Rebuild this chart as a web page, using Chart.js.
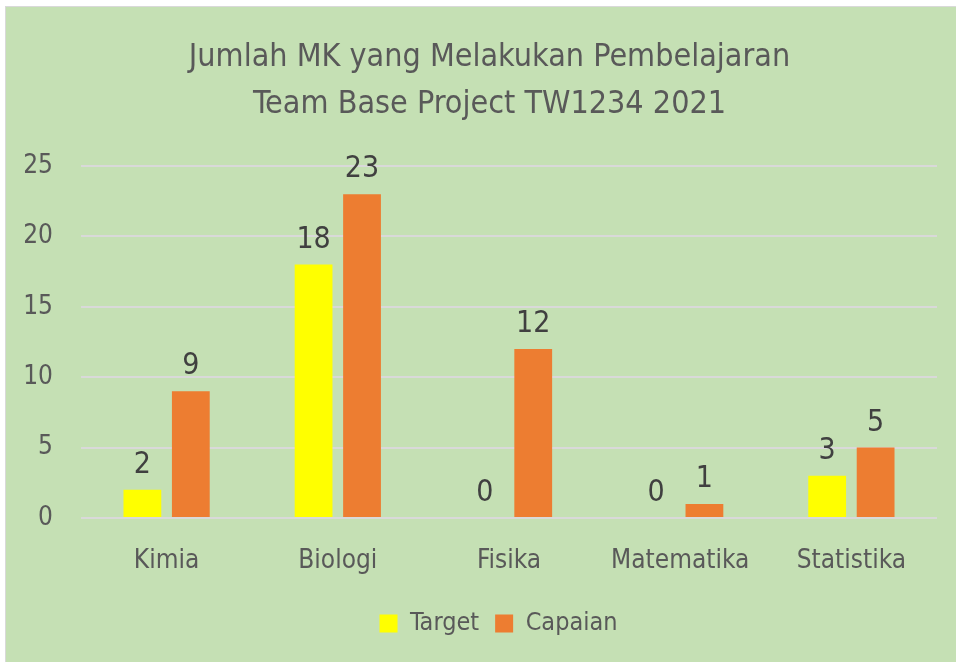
<!DOCTYPE html>
<html>
<head>
<meta charset="utf-8">
<script src="https://cdn.jsdelivr.net/npm/chart.js@4.4.1/dist/chart.umd.min.js"></script>
<style>
  html, body { margin: 0; padding: 0; background: #ffffff; }
  #wrap { position: absolute; left: 5px; top: 6px; width: 951px; height: 656px;
          border-left: 1px solid #d9d9d9; border-top: 1px solid #d9d9d9; background: #c5e0b4; }
  canvas { display: block; }
</style>
</head>
<body>
<div id="wrap"><canvas id="chart" width="950" height="655"></canvas></div>
<script>
const categories = ['Kimia', 'Biologi', 'Fisika', 'Matematika', 'Statistika'];
const targetValues = [2, 18, 0, 0, 3];
const capaianValues = [9, 23, 12, 1, 5];
const seriesNames = ['Target', 'Capaian'];
const yTicks = [0, 5, 10, 15, 20, 25];
const titleLines = ['Jumlah MK yang Melakukan Pembelajaran', 'Team Base Project TW1234 2021'];

const FONT = "'Liberation Sans Narrow', 'DejaVu Sans Condensed', 'Noto Sans', sans-serif";

// Writes each bar's value just above its top edge
const valueLabels = {
  id: 'valueLabels',
  afterDatasetsDraw(chart) {
    const ctx = chart.ctx;
    ctx.save();
    ctx.font = '30px ' + FONT;
    ctx.fillStyle = '#404040';
    ctx.textAlign = 'center';
    ctx.textBaseline = 'alphabetic';
    chart.data.datasets.forEach((ds, i) => {
      chart.getDatasetMeta(i).data.forEach((bar, j) => {
        ctx.fillText(String(ds.data[j]), bar.x, bar.y - 17);
      });
    });
    ctx.restore();
  }
};

// Centres the title and legend a little right of the canvas middle
const centreShift = {
  id: 'centreShift',
  afterLayout(chart) {
    const t = chart.titleBlock, l = chart.legend;
    if (t) { t.left += 18; t.right += 18; }
    if (l) { l.left += 27; l.right += 27; }
  }
};

new Chart(document.getElementById('chart'), {
  type: 'bar',
  data: {
    labels: categories,
    datasets: [
      { label: seriesNames[0], data: targetValues, backgroundColor: '#ffff00' },
      { label: seriesNames[1], data: capaianValues, backgroundColor: '#ed7d31' }
    ]
  },
  options: {
    responsive: false,
    animation: false,
    devicePixelRatio: 1,
    layout: { padding: { left: 0, right: 19, top: 0, bottom: 16 } },
    datasets: { bar: { categoryPercentage: 0.566, barPercentage: 0.78 } },
    plugins: {
      title: {
        display: true,
        text: titleLines,
        color: '#595959',
        font: { family: FONT, size: 32, weight: 'normal', lineHeight: 1.47 },
        padding: { top: 27, bottom: 38 }
      },
      legend: {
        position: 'bottom',
        labels: {
          color: '#595959',
          font: { family: FONT, size: 25 },
          boxWidth: 18, boxHeight: 18, padding: 16
        }
      },
      tooltip: { enabled: false }
    },
    scales: {
      x: {
        grid: { display: false },
        border: { display: false },
        ticks: { color: '#595959', font: { family: FONT, size: 26 }, padding: 20 },
        afterFit(s) { s.height = 77; }
      },
      y: {
        min: 0, max: 25,
        afterBuildTicks(s) { s.ticks = yTicks.map(v => ({ value: v })); },
        grid: { color: '#d9d9d9', lineWidth: 2, drawTicks: false },
        border: { display: false },
        ticks: { color: '#595959', font: { family: FONT, size: 26 }, padding: 28 },
        afterFit(s) { s.width = 75; }
      }
    }
  },
  plugins: [valueLabels, centreShift]
});
</script>
</body>
</html>
